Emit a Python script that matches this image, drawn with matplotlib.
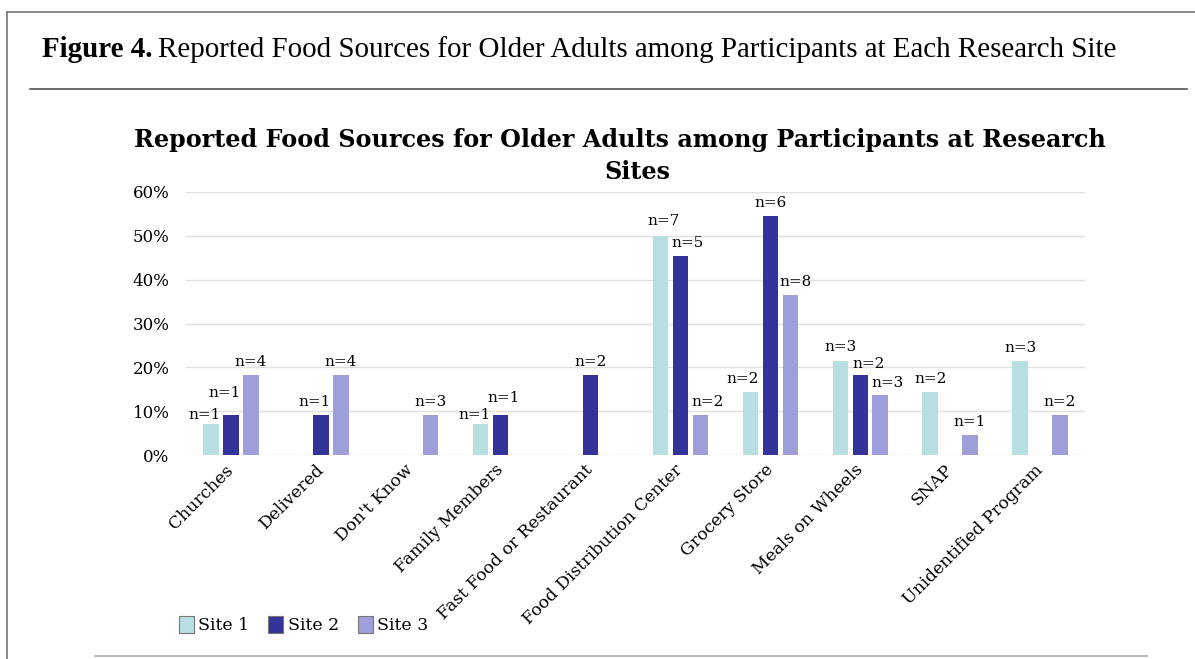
import numpy as np
import matplotlib
matplotlib.use("Agg")
import matplotlib.pyplot as plt
from matplotlib.patches import Patch
from matplotlib.lines import Line2D

CATEGORIES = ["Churches", "Delivered", "Don't Know", "Family Members",
              "Fast Food or Restaurant", "Food Distribution Center",
              "Grocery Store", "Meals on Wheels", "SNAP", "Unidentified Program"]
SITES = ["Site 1", "Site 2", "Site 3"]

# percent of participants (None = no bar)
SITE1 = [7.1, None, None, 7.1, None, 50.0, 14.3, 21.4, 14.3, 21.4]
SITE2 = [9.1, 9.1, None, 9.1, 18.2, 45.5, 54.5, 18.2, None, None]
SITE3 = [18.2, 18.2, 9.1, None, None, 9.1, 36.4, 13.6, 4.5, 9.1]

LABEL1 = ["n=1", "", "", "n=1", "", "n=7", "n=2", "n=3", "n=2", "n=3"]
LABEL2 = ["n=1", "n=1", "", "n=1", "n=2", "n=5", "n=6", "n=2", "", ""]
LABEL3 = ["n=4", "n=4", "n=3", "", "", "n=2", "n=8", "n=3", "n=1", "n=2"]

YTICKS = [0, 10, 20, 30, 40, 50, 60]
COLORS = ["#B7DEE0", "#333399", "#9E9EDB"]

# label nudges in pixels (category, site) -> (dx, dy), like Excel spreads them
NUDGE = {(0, 0): (-6, -4), (0, 1): (-6, 9), (1, 1): (-6, 0),
         (3, 0): (-6, -4), (3, 1): (3, 4),
         (5, 0): (3, 2), (5, 1): (7, 0), (5, 2): (7, 0),
         (6, 0): (-8, 0), (6, 2): (5, 0),
         (7, 0): (0, 1), (7, 1): (8, -2), (7, 2): (7, -1)}

SERIF = "DejaVu Serif"
W, H = 1195, 659


def px(x, y):
    return x / W, 1 - y / H


fig = plt.figure(figsize=(W / 100, H / 100), dpi=100)

# page frame and caption rules
fig.add_artist(Line2D([px(7, 0)[0], 1], [px(0, 12)[1]] * 2, color="#777777", lw=1.2))
fig.add_artist(Line2D([px(7, 0)[0]] * 2, [px(0, 12)[1], 0], color="#777777", lw=1.2))
fig.add_artist(Line2D([px(30, 0)[0], px(1187, 0)[0]], [px(0, 89)[1]] * 2, color="#555555", lw=1.2))
fig.add_artist(Line2D([px(95, 0)[0], px(1147, 0)[0]], [px(0, 656)[1]] * 2, color="#AAAAAA", lw=1.2))

cap_x, cap_y = px(42, 57)
t = fig.text(cap_x, cap_y, "Figure 4.", fontfamily="Liberation Serif", fontweight="bold",
             fontsize=20.9, va="baseline", ha="left")
fig.canvas.draw()
bb = t.get_window_extent()
fig.text(bb.x1 / W + 6 / W, cap_y, "Reported Food Sources for Older Adults among Participants at Each Research Site",
         fontfamily="Liberation Serif", fontsize=20.9, va="baseline", ha="left")

# chart title (two lines, as wrapped in the source)
fig.text(px(620, 0)[0], px(0, 147)[1],
         "Reported Food Sources for Older Adults among Participants at Research",
         fontfamily=SERIF, fontweight="bold", fontsize=17.2, ha="center", va="baseline")
fig.text(px(637, 0)[0], px(0, 179)[1], "Sites",
         fontfamily=SERIF, fontweight="bold", fontsize=17.2, ha="center", va="baseline")

ax = fig.add_axes([186 / W, 1 - 455 / H, 899 / W, 263 / H])
x = np.arange(len(CATEGORIES))
step = 0.222
width = 0.172

for i, (vals, labs) in enumerate(zip([SITE1, SITE2, SITE3], [LABEL1, LABEL2, LABEL3])):
    xs = x + (i - 1) * step
    for k, (xi, v, lab) in enumerate(zip(xs, vals, labs)):
        if v is None:
            continue
        ax.bar(xi, v, width=width, color=COLORS[i], zorder=3)
        dx, dy = NUDGE.get((k, i), (0, 0))
        ax.annotate(lab, (xi, v), xytext=(dx * 0.72, 4.3 + dy * 0.72), textcoords="offset points",
                    ha="center", va="bottom", fontfamily=SERIF, fontsize=11)

ax.set_xlim(-0.5, len(CATEGORIES) - 0.5)
ax.set_ylim(0, 60)
ax.set_yticks(YTICKS)
ax.set_yticklabels([f"{v}%" for v in YTICKS], fontfamily=SERIF, fontsize=12)
ax.yaxis.grid(True, color="#E0E0E0", lw=1, zorder=0)
ax.set_axisbelow(True)
ax.tick_params(axis="y", length=0, pad=12)
ax.tick_params(axis="x", length=0, pad=9)
ax.set_xticks(x)
ax.set_xticklabels(CATEGORIES, rotation=45, ha="right", va="center", rotation_mode="anchor",
                   fontfamily=SERIF, fontsize=12.3)
for s in ax.spines.values():
    s.set_visible(False)

handles = [Patch(facecolor=c, edgecolor="#777777", lw=0.8) for c in COLORS]
fig.legend(handles, SITES, loc="center left", bbox_to_anchor=px(179, 625), ncol=3,
           frameon=False, prop={"family": SERIF, "size": 12.5}, handlelength=0.86,
           handleheight=1.15, handletextpad=0.25, columnspacing=1.1,
           borderpad=0, borderaxespad=0)

fig.savefig("out.png", dpi=100)
